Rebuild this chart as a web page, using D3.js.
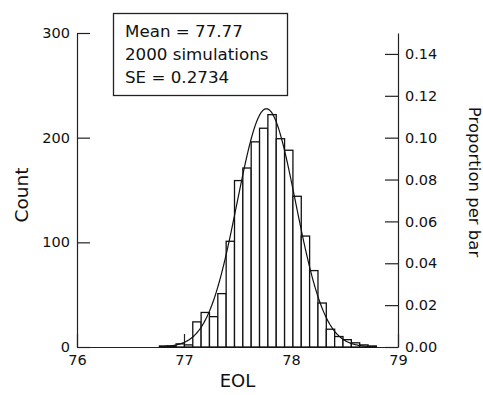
<!DOCTYPE html>
<html>
<head>
<meta charset="utf-8">
<script src="https://cdnjs.cloudflare.com/ajax/libs/d3/7.8.5/d3.min.js"></script>
<style>
  body { margin: 0; background: white; }
  text { font-family: 'DejaVu Sans', sans-serif; fill: #111; }
  .axis path, .axis line { stroke: #222; stroke-width: 1.2; }
</style>
</head>
<body>
<div id="chart"></div>
<script>
// bootstrap histogram of EOL, 2000 simulations
var counts = [1, 1, 3, 2, 24, 33, 29, 51, 101, 159, 171, 196, 209,
              222, 199, 188, 144, 106, 73, 42, 17, 10, 7, 4, 2, 1];
var binStart = 76.77;
var binWidth = 0.078;
var mean = 77.77;
var se = 0.2734;
var nSims = 2000;

var xTicks = [76, 77, 78, 79];
var countTicks = [0, 100, 200, 300];
var propTicks = [0, 0.02, 0.04, 0.06, 0.08, 0.10, 0.12, 0.14];
var statLines = ["Mean = 77.77", "2000 simulations", "SE = 0.2734"];

var W = 483, H = 395;
var plotLeft = 77, plotRight = 398, plotTop = 33, plotBottom = 347;

var svg = d3.select("#chart").append("svg")
  .attr("width", W)
  .attr("height", H);

var x = d3.scaleLinear().domain([76, 79]).range([plotLeft, plotRight]);
var y = d3.scaleLinear().domain([0, 300]).range([plotBottom, plotTop]);
var y2 = d3.scaleLinear().domain([0, 300 / nSims]).range([plotBottom, plotTop]);

// axes first (ticks point inward), bars drawn over them
svg.append("g")
  .attr("class", "axis")
  .attr("transform", "translate(" + plotLeft + ",0)")
  .call(d3.axisLeft(y).tickValues(countTicks).tickSizeInner(-13).tickSizeOuter(0).tickPadding(7));

svg.append("g")
  .attr("class", "axis")
  .attr("transform", "translate(" + plotRight + ",0)")
  .call(d3.axisRight(y2).tickValues(propTicks).tickFormat(d3.format(".2f"))
    .tickSizeInner(-13).tickSizeOuter(0).tickPadding(7));

svg.append("g")
  .attr("class", "axis")
  .attr("transform", "translate(0," + plotBottom + ")")
  .call(d3.axisBottom(x).tickValues(xTicks).tickFormat(d3.format("d"))
    .tickSizeInner(-13).tickSizeOuter(0).tickPadding(8));

svg.selectAll(".axis text")
  .attr("font-family", "'DejaVu Sans', sans-serif")
  .style("font-size", "14.5px")
  .style("fill", "#111");

var bins = counts.map(function (c, i) {
  return { x0: binStart + i * binWidth, x1: binStart + (i + 1) * binWidth, n: c };
});

// bars
svg.selectAll(".bar")
  .data(bins)
  .enter().append("rect")
  .attr("class", "bar")
  .attr("x", function (d) { return x(d.x0); })
  .attr("width", function (d) { return x(d.x1) - x(d.x0); })
  .attr("y", function (d) { return y(d.n); })
  .attr("height", function (d) { return y(0) - y(d.n); })
  .attr("fill", "white")
  .attr("stroke", "#111")
  .attr("stroke-width", 1.3);

// fitted normal curve
var cx0 = binStart, cx1 = binStart + counts.length * binWidth;
var curvePts = d3.range(cx0, cx1 + 0.001, 0.005).map(function (v) {
  var z = (v - mean) / se;
  return [v, nSims * binWidth * Math.exp(-0.5 * z * z) / (se * Math.sqrt(2 * Math.PI))];
});
svg.append("path")
  .datum(curvePts)
  .attr("fill", "none")
  .attr("stroke", "#111")
  .attr("stroke-width", 1.2)
  .attr("d", d3.line()
    .x(function (d) { return x(d[0]); })
    .y(function (d) { return y(d[1]); }));

// axis titles
svg.append("text")
  .attr("transform", "translate(28,195) rotate(-90)")
  .attr("text-anchor", "middle")
  .style("font-size", "18.5px")
  .text("Count");

svg.append("text")
  .attr("transform", "translate(469,182) rotate(90)")
  .attr("text-anchor", "middle")
  .style("font-size", "16.5px")
  .text("Proportion per bar");

svg.append("text")
  .attr("x", (plotLeft + plotRight) / 2)
  .attr("y", 387)
  .attr("text-anchor", "middle")
  .style("font-size", "18px")
  .text("EOL");

// stats box
svg.append("rect")
  .attr("x", 113.5)
  .attr("y", 13.5)
  .attr("width", 174)
  .attr("height", 82)
  .attr("fill", "white")
  .attr("stroke", "#222")
  .attr("stroke-width", 1.3);

svg.selectAll(".stat")
  .data(statLines)
  .enter().append("text")
  .attr("class", "stat")
  .attr("x", 125)
  .attr("y", function (d, i) { return 36.5 + i * 23; })
  .style("font-size", "16.7px")
  .text(function (d) { return d; });
</script>
</body>
</html>
